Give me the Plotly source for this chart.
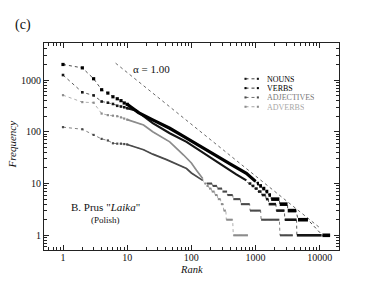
import plotly.graph_objects as go

# ---------------- data ----------------
head_rank = [1, 2, 3, 4, 5, 6, 7, 8, 9, 10]

verbs_head = [2000, 1720, 1060, 650, 560, 475, 435, 400, 360, 340]
verbs_body_rank = [10, 15, 25, 46, 66, 100, 216, 400, 719, 1000]
verbs_body_freq = [340, 235, 170, 117, 90, 66, 38.5, 24, 15.8, 11]
verbs_step_freq = [10, 9, 8, 7, 6, 5, 4, 3, 2, 1]
verbs_step_start = [1050, 1140, 1270, 1430, 1590, 1750, 2380, 3170, 4580, 11000]
verbs_step_end = [1130, 1260, 1420, 1580, 1740, 2350, 3150, 4300, 6550, 14500]

nouns_head = [1250, 580, 505, 385, 365, 345, 318, 308, 298, 286]
nouns_body_rank = [10, 14, 25, 46, 84, 150, 275, 500, 719]
nouns_body_freq = [286, 255, 147, 94, 64, 40, 24, 15, 11.5]
nouns_step_freq = [10, 9, 8, 7, 6, 5, 4, 3, 2, 1]
nouns_step_start = [780, 870, 970, 1090, 1250, 1450, 1600, 2100, 2850, 4400]
nouns_step_end = [860, 960, 1080, 1240, 1440, 1590, 2080, 2820, 4350, 10700]

adj_head = [123, 112, 87, 73, 68, 60, 59, 59, 58, 57]
adj_body_rank = [10, 14, 18, 25, 41, 84, 100, 150]
adj_body_freq = [57, 50, 45, 37, 29, 19.5, 16, 11.5]
adj_step_freq = [10, 9, 8, 7, 6, 5, 4, 3, 2, 1]
adj_step_start = [175, 215, 255, 305, 365, 450, 590, 820, 1220, 2400]
adj_step_end = [210, 250, 300, 360, 440, 580, 810, 1200, 2350, 3800]

adv_head = [510, 375, 365, 225, 210, 205, 200, 190, 180, 172]
adv_body_rank = [10, 14, 18, 25, 46, 75, 100, 120, 150]
adv_body_freq = [172, 150, 135, 100, 64, 36, 25, 18, 12.5]
adv_step_freq = [10, 9, 8, 7, 6, 5, 4, 3, 2, 1]
adv_step_start = [160, 172, 188, 208, 233, 258, 288, 318, 350, 450]
adv_step_end = [170, 185, 205, 230, 255, 285, 315, 345, 440, 760]

alpha_rank = [6.6, 9800]
alpha_freq = [2120, 1.43]

x_ticks = [1, 10, 100, 1000, 10000]
y_ticks = [1, 10, 100, 1000]

SERIES = [
    # name, head, body r, body f, step f, start, end, color, body width, marker size, legend color
    ("NOUNS", nouns_head, nouns_body_rank, nouns_body_freq, nouns_step_freq,
     nouns_step_start, nouns_step_end, "#151515", 2.2, 2.6, "#000000"),
    ("VERBS", verbs_head, verbs_body_rank, verbs_body_freq, verbs_step_freq,
     verbs_step_start, verbs_step_end, "#000000", 3.2, 3.2, "#000000"),
    ("ADJECTIVES", adj_head, adj_body_rank, adj_body_freq, adj_step_freq,
     adj_step_start, adj_step_end, "#4a4a4a", 1.7, 2.2, "#7a7a7a"),
    ("ADVERBS", adv_head, adv_body_rank, adv_body_freq, adv_step_freq,
     adv_step_start, adv_step_end, "#8c8c8c", 1.7, 2.2, "#a8a8a8"),
]

fig = go.Figure()

# alpha = 1 reference line
fig.add_trace(go.Scatter(x=alpha_rank, y=alpha_freq, mode="lines",
                         line=dict(color="#444444", width=0.8, dash="dot"),
                         showlegend=False, hoverinfo="skip"))

for (name, head, br, bf, sf, ss, se, col, bw, ms, lcol) in SERIES:
    cx = list(head_rank) + list(br)
    cy = list(head) + list(bf)
    for f, a, b in zip(sf, ss, se):
        cx += [a, b]
        cy += [f, f]
    fig.add_trace(go.Scatter(x=cx, y=cy, mode="lines",
                             line=dict(color=col, width=0.7, dash="dot"),
                             showlegend=False, hoverinfo="skip"))
    fig.add_trace(go.Scatter(x=br, y=bf, mode="lines",
                             line=dict(color=col, width=bw),
                             showlegend=False, hoverinfo="skip"))
    px, py = [], []
    for f, a, b in zip(sf, ss, se):
        px += [a, b, None]
        py += [f, f, None]
    fig.add_trace(go.Scatter(x=px, y=py, mode="lines",
                             line=dict(color=col, width=bw + 0.4),
                             showlegend=False, hoverinfo="skip"))
    fig.add_trace(go.Scatter(x=head_rank, y=head, mode="markers",
                             marker=dict(color=col, size=ms, symbol="square"),
                             showlegend=False, hoverinfo="skip"))

minor_vals = [m * 10 ** d for d in range(-1, 5) for m in range(2, 10)]

axis_common = dict(
    type="log", showgrid=False, zeroline=False, showline=True,
    linecolor="#222222", linewidth=1, mirror="allticks",
    ticks="inside", ticklen=5, tickwidth=1, tickcolor="#222222",
    tickfont=dict(family="Liberation Serif", size=10, color="#111111"),
)

fig.update_layout(
    width=382, height=295,
    margin=dict(l=44, r=43, t=43, b=45),
    paper_bgcolor="white", plot_bgcolor="white",
    showlegend=False,
    xaxis=dict(axis_common, range=[-0.296, 4.30], tickvals=x_ticks,
               ticktext=[str(v) for v in x_ticks], ticklabelstandoff=-2,
               minor=dict(ticks="inside", ticklen=3, tickcolor="#222222",
                          tickvals=minor_vals, showgrid=False)),
    yaxis=dict(axis_common, range=[-0.284, 3.716], tickvals=y_ticks,
               ticktext=[str(v) for v in y_ticks],
               minor=dict(ticks="inside", ticklen=3, tickcolor="#222222",
                          tickvals=minor_vals, showgrid=False)),
)

serif = "Liberation Serif"


def note(text, x, y, size, color="#111", angle=0, xanchor="center", height=None):
    d = dict(text=text, x=x, y=y, xref="paper", yref="paper",
             xanchor=xanchor, yanchor="middle", textangle=angle,
             showarrow=False, font=dict(family=serif, size=size, color=color))
    if height is not None:
        d["height"] = height
        d["borderpad"] = 0
    return d


ann = [
    note("(c)", -0.0705, 1.0885, 14),
    note("α = 1.00", 0.365, 0.876, 11),
    note('B. Prus "<i>Laika</i>"', 0.2075, 0.2095, 11),
    note("(Polish)", 0.209, 0.145, 9),
    note("<i>Rank</i>", 0.5007, -0.094, 10.5, height=11),
    note("<i>Frequency</i>", -0.1095, 0.508, 11, angle=-90),
]

# legend (drawn manually to match the compact layout)
leg_y = [0.827, 0.782, 0.737, 0.692]
shapes = []
for (s, yy) in zip(SERIES, leg_y):
    name, col, ms, lcol = s[0], s[7], s[9], s[10]
    shapes.append(dict(type="line", xref="paper", yref="paper",
                       x0=0.683, x1=0.725, y0=yy, y1=yy,
                       line=dict(color=col, width=0.8, dash="dot")))
    for xx in (0.683, 0.725):
        shapes.append(dict(type="rect", xref="paper", yref="paper",
                           x0=xx - 0.0035, x1=xx + 0.0035,
                           y0=yy - 0.005, y1=yy + 0.005,
                           line=dict(width=0), fillcolor=col))
    ann.append(note(name, 0.754, yy, 8, color=lcol, xanchor="left", height=8))

fig.update_layout(annotations=ann, shapes=shapes)
fig.write_html("out.html", config={"displayModeBar": False},
               post_script="document.body.style.margin='0';")
